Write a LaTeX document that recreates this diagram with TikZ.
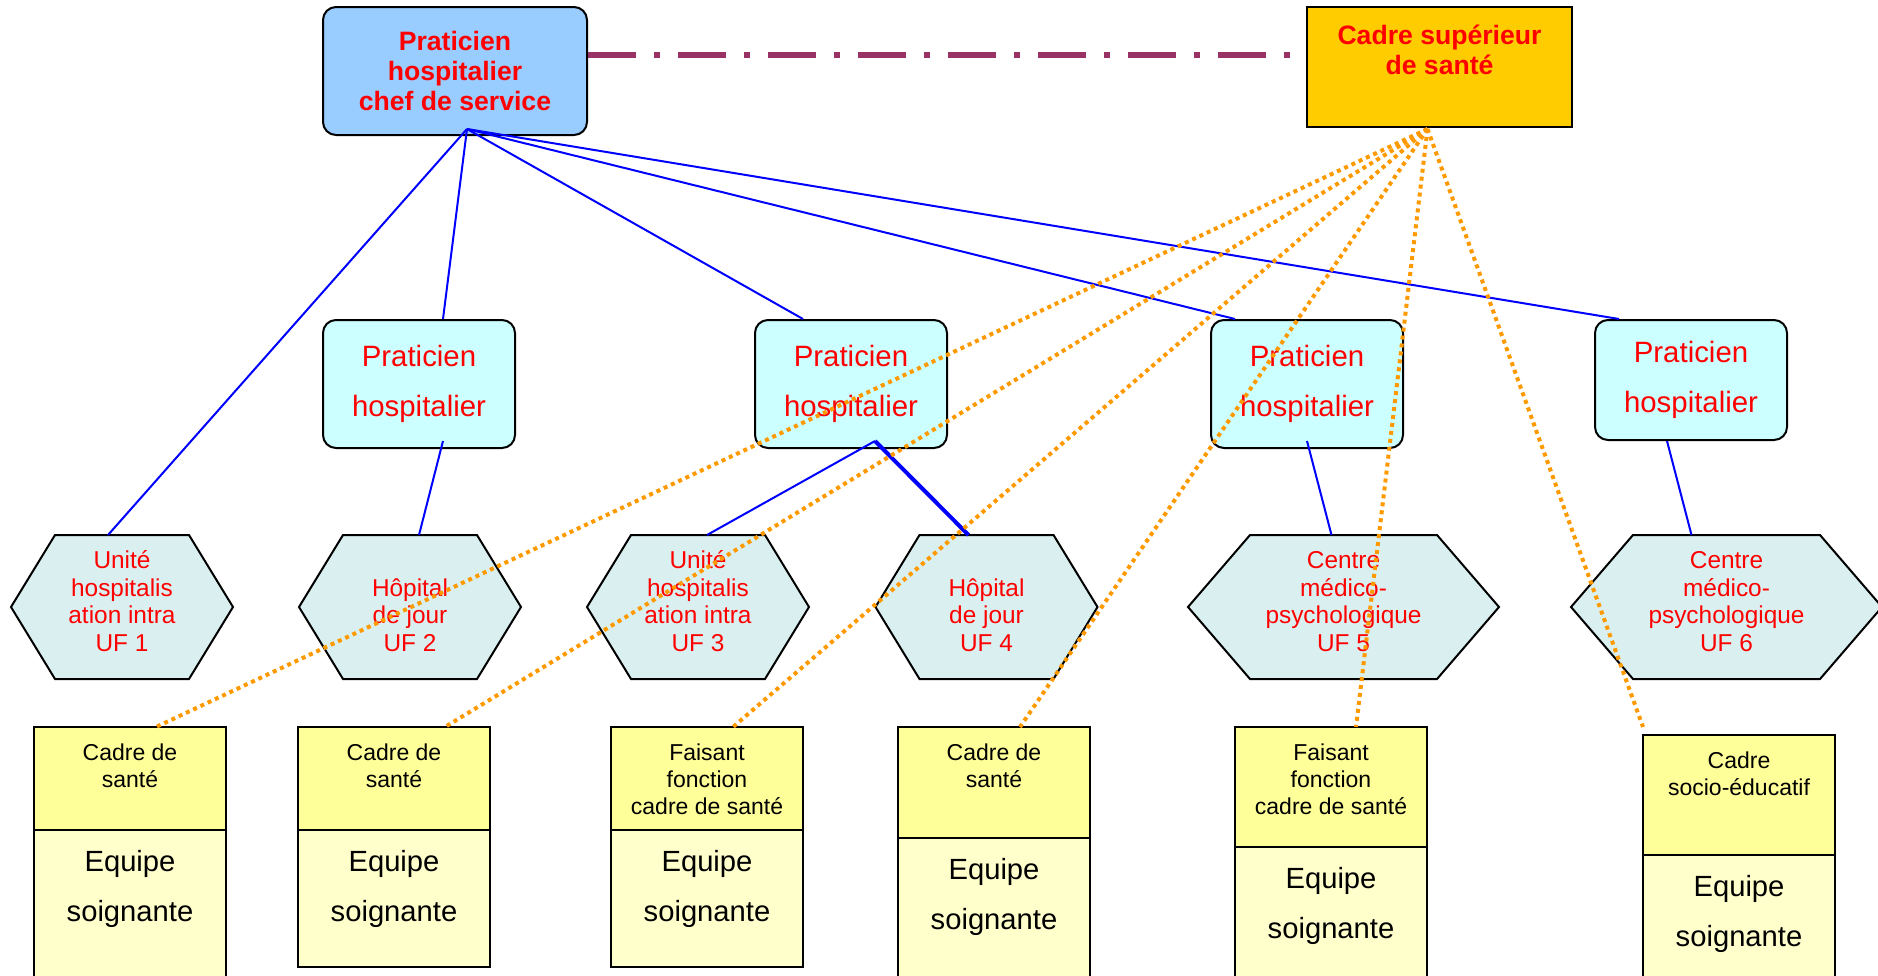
\documentclass[tikz,border=0pt]{standalone}
\usepackage{fontspec}
\setmainfont{Liberation Sans}
\usetikzlibrary{positioning}

\definecolor{chefblue}{HTML}{99CCFF}
\definecolor{cadregold}{HTML}{FFCC00}
\definecolor{phcyan}{HTML}{CCFFFF}
\definecolor{ufcyan}{HTML}{DAF0F0}
\definecolor{cadreyellow}{HTML}{FFFF99}
\definecolor{equipeyellow}{HTML}{FFFFCC}
\definecolor{linkpurple}{HTML}{993366}
\definecolor{linkorange}{HTML}{FF9900}

\tikzset{
  chefbox/.style={draw, line width=1pt, rounded corners=6.5pt, fill=chefblue,
    text=red, align=center, font=\fontsize{13.3}{15.2}\selectfont\bfseries,
    minimum width=132pt, minimum height=64pt, inner sep=0pt},
  cadrebox/.style={draw, line width=1pt, fill=cadregold,
    minimum width=132.5pt, minimum height=60pt, inner sep=0pt},
  cadretext/.style={text=red, align=center, inner sep=0pt,
    font=\fontsize{13.3}{15}\selectfont\bfseries},
  phbox/.style={draw, line width=1pt, rounded corners=6.5pt, fill=phcyan,
    text=red, align=center, font=\fontsize{14.7}{25}\selectfont,
    minimum width=96pt, minimum height=64pt, inner sep=0pt},
  ufnode/.style={minimum width=67pt, minimum height=72pt, inner sep=0pt, outer sep=0pt},
  ufline/.style={draw, line width=1pt, fill=ufcyan},
  uftext/.style={text=red, align=center, inner sep=0pt,
    font=\fontsize{12.2}{13.8}\selectfont},
  cadrecell/.style={draw, line width=1pt, fill=cadreyellow, minimum width=96pt,
    minimum height=51.5pt, inner sep=0pt, outer sep=0pt},
  equipecell/.style={draw, line width=1pt, fill=equipeyellow, minimum width=96pt,
    inner sep=0pt, outer sep=0pt},
  celltext/.style={align=center, inner sep=0pt, font=\fontsize{11.5}{13.5}\selectfont},
  equipetext/.style={align=center, inner sep=0pt, font=\fontsize{14.6}{25}\selectfont},
  bluelink/.style={blue, line width=1pt},
  dotlink/.style={linkorange, line width=2pt, dash pattern=on 2pt off 2pt},
  dashdotlink/.style={linkpurple, line width=3pt, dash pattern=on 24pt off 9pt on 3pt off 9pt}
}

% hexagon drawn round an (empty) unit node
\newcommand{\ufhexagon}[2]{%
  \path[ufline] (#1.north west) -- (#1.north east) -- ([xshift=#2]#1.east)
    -- (#1.south east) -- (#1.south west) -- ([xshift=-#2]#1.west) -- cycle;}

\begin{document}
\begin{tikzpicture}[x=0.5pt, y=-0.5pt]
  \useasboundingbox (0,0) rectangle (1878,975);
  \clip (0,0) rectangle (1878,975);

  % top row
  \node[chefbox] (chef) at (455,71) {Praticien\\hospitalier\\chef de service};
  \node[cadrebox] (csup) at (1439.5,67) {};
  \node[cadretext, below=9.2pt of csup.north] (tcsup) {Cadre supérieur\\de santé};

  % praticiens
  \node[phbox] (ph1) at (419,384) {Praticien\\hospitalier};
  \node[phbox] (ph2) at (851,384) {Praticien\\hospitalier};
  \node[phbox] (ph3) at (1307,384) {Praticien\\hospitalier};
  \node[phbox, minimum height=60pt] (ph4) at (1691,380) {Praticien\\hospitalier};

  % unites fonctionnelles
  \node[ufnode] (uf1) at (122,607) {};
  \ufhexagon{uf1}{22pt}
  \node[uftext, above=13.5pt of uf1.south] (tuf1) {Unité\\hospitalis\\ation intra\\UF 1};
  \node[ufnode] (uf2) at (410,607) {};
  \ufhexagon{uf2}{22pt}
  \node[uftext, above=13.5pt of uf2.south] (tuf2) {Hôpital\\de jour\\UF 2};
  \node[ufnode] (uf3) at (698,607) {};
  \ufhexagon{uf3}{22pt}
  \node[uftext, above=13.5pt of uf3.south] (tuf3) {Unité\\hospitalis\\ation intra\\UF 3};
  \node[ufnode] (uf4) at (986.5,607) {};
  \ufhexagon{uf4}{22pt}
  \node[uftext, above=13.5pt of uf4.south] (tuf4) {Hôpital\\de jour\\UF 4};
  \node[ufnode, minimum width=93.5pt] (uf5) at (1343.5,607) {};
  \ufhexagon{uf5}{31pt}
  \node[uftext, above=13.5pt of uf5.south] (tuf5) {Centre\\médico-\\psychologique\\UF 5};
  \node[ufnode, minimum width=93.5pt] (uf6) at (1726.5,607) {};
  \ufhexagon{uf6}{31pt}
  \node[uftext, above=13.5pt of uf6.south] (tuf6) {Centre\\médico-\\psychologique\\UF 6};

  % cadres et equipes
  \node[cadrecell] (cs1) at (130,778.5) {};
  \node[equipecell, minimum height=77.5pt, below=0pt of cs1] (eq1) {};
  \node[celltext, below=8pt of cs1.north] (tcs1) {Cadre de\\santé};
  \node[equipetext, below=10pt of eq1.north] (teq1) {Equipe\\soignante};

  \node[cadrecell] (cs2) at (394,778.5) {};
  \node[equipecell, minimum height=68.5pt, below=0pt of cs2] (eq2) {};
  \node[celltext, below=8pt of cs2.north] (tcs2) {Cadre de\\santé};
  \node[equipetext, below=10pt of eq2.north] (teq2) {Equipe\\soignante};

  \node[cadrecell] (cs3) at (707,778.5) {};
  \node[equipecell, minimum height=68.5pt, below=0pt of cs3] (eq3) {};
  \node[celltext, below=8pt of cs3.north] (tcs3) {Faisant\\fonction\\cadre de santé};
  \node[equipetext, below=10pt of eq3.north] (teq3) {Equipe\\soignante};

  \node[cadrecell, minimum height=55.5pt] (cs4) at (994,782.5) {};
  \node[equipecell, minimum height=73.5pt, below=0pt of cs4] (eq4) {};
  \node[celltext, below=8pt of cs4.north] (tcs4) {Cadre de\\santé};
  \node[equipetext, below=10pt of eq4.north] (teq4) {Equipe\\soignante};

  \node[cadrecell, minimum height=60pt] (cs5) at (1331,787) {};
  \node[equipecell, minimum height=69pt, below=0pt of cs5] (eq5) {};
  \node[celltext, below=8pt of cs5.north] (tcs5) {Faisant\\fonction\\cadre de santé};
  \node[equipetext, below=10pt of eq5.north] (teq5) {Equipe\\soignante};

  \node[cadrecell, minimum height=60pt] (cs6) at (1739,795) {};
  \node[equipecell, minimum height=65pt, below=0pt of cs6] (eq6) {};
  \node[celltext, below=8pt of cs6.north] (tcs6) {Cadre\\socio-éducatif};
  \node[equipetext, below=10pt of eq6.north] (teq6) {Equipe\\soignante};

  % liens hierarchiques
  \coordinate (chefhub) at ([xshift=6pt,yshift=3.5pt]chef.south);
  \draw[bluelink] (chefhub) -- ([xshift=-7pt]uf1.north);
  \draw[bluelink] (chefhub) -- ([xshift=12pt]ph1.north);
  \draw[bluelink] (chefhub) -- ([xshift=-24pt]ph2.north);
  \draw[bluelink] (chefhub) -- ([xshift=-36pt]ph3.north);
  \draw[bluelink] (chefhub) -- ([xshift=-36pt]ph4.north);
  \draw[bluelink] ([xshift=12pt,yshift=4pt]ph1.south) -- ([xshift=4.5pt]uf2.north);
  \draw[bluelink] ([xshift=12pt,yshift=4pt]ph2.south) -- ([xshift=4.5pt]uf3.north);
  \draw[bluelink, line width=2pt] ([xshift=12pt,yshift=4pt]ph2.south) -- ([xshift=-9pt]uf4.north);
  \draw[bluelink] ([yshift=4pt]ph3.south) -- ([xshift=-6pt]uf5.north);
  \draw[bluelink] ([xshift=-12pt]ph4.south) -- ([xshift=-17.5pt]uf6.north);

  % liens fonctionnels
  \coordinate (csuphub) at ([xshift=-6pt,yshift=-0.5pt]csup.south);
  \draw[dotlink] (csuphub) -- ([xshift=13pt]cs1.north);
  \draw[dotlink] (csuphub) -- ([xshift=25.5pt]cs2.north);
  \draw[dotlink] (csuphub) -- ([xshift=13pt]cs3.north);
  \draw[dotlink] (csuphub) -- ([xshift=13pt]cs4.north);
  \draw[dotlink] (csuphub) -- ([xshift=12.5pt]cs5.north);
  \draw[dotlink] (csuphub) -- ([yshift=4pt]cs6.north west);

  \draw[dashdotlink] ([yshift=8pt]chef.east) -- ([yshift=8pt]chef.east -| csup.west);
\end{tikzpicture}
\end{document}
